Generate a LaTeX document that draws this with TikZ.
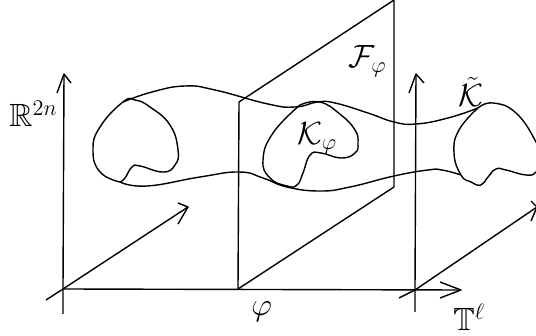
\documentclass[tikz,border=0pt]{standalone}
\usepackage{amsmath}
\usepackage{amssymb}
\usepackage{tikz}
\begin{document}
\begin{tikzpicture}[
  x=0.5pt,y=-0.5pt,
  line/.style={draw=black,line width=0.7pt,line join=round},
  blob/.style={draw=black,line width=0.7pt,smooth,tension=0.8},
  tag/.style={inner sep=0pt,anchor=base west,font=\LARGE,scale=0.93}
]
\useasboundingbox (0,0) rectangle (536,336);
\clip (0,0) rectangle (536,336);
% base point of each fibre
\coordinate (left) at (63,289);
\coordinate (right) at (415,290);
\coordinate (foot) at (238,289);
% axes
\draw[line] (63,314) -- (left) -- (64,74);
\draw[line] (57,93) -- (64,74) -- (71,83);
\draw[line] (left) -- (461,290);
\draw[line] (440,282) -- (461,290) -- (440,298);
\draw[line] (46,300) -- (left) -- (188,207);
\draw[line] (178,203) -- (188,207) -- (178,224);
\draw[line] (415,312) -- (right) -- (416,74);
\draw[line] (409,93) -- (416,74) -- (424,83);
\draw[line] (399,298) -- (right) -- (537,207);
\draw[line] (531,201) -- (537,207) -- (531,221);
% fibre
\draw[line] (foot) -- (239,102) -- (394,0) -- (394,187) -- (foot);
% tube
\draw[blob] plot coordinates {(123,102) (152,92) (185,86) (215,90) (268,104) (295,107) (318,102) (335,103) (368,113) (394,122) (416,124) (448,118) (478,108)};
\draw[blob] plot coordinates {(120,182) (147,186) (200,177) (239,172) (263,178) (287,187) (320,191) (350,187) (394,176) (428,170) (442,170) (461,175)};
% sections
\draw[blob] plot coordinates {(120,182) (100,172) (93,150) (100,127) (123,102) (135,100) (150,107) (170,125) (178,150) (175,165) (163,172) (140,166) (132,167) (125,178) (120,182)};
\draw[blob] plot coordinates {(300,105) (320,102) (341,115) (355,130) (358,143) (355,153) (341,158) (321,153) (310,155) (303,173) (297,185) (287,186) (270,178) (263,160) (273,133) (300,105)};
\draw[blob] plot coordinates {(478,108) (493,103) (516,113) (536,142) (542,160) (536,172) (526,175) (506,170) (496,169) (488,177) (481,185) (471,182) (461,175) (454,153) (459,130) (478,108)};
% labels
\node[tag] (rn) at (9,127) {$\mathbb{R}^{2n}$};
\node[tag] (fibre) at (348,68) {$\mathcal{F}_\varphi$};
\node[tag] (section) at (297,145) {$\mathcal{K}_\varphi$};
\node[tag] (tube) at (458,107) {$\tilde{\mathcal{K}}$};
\node[tag] (phi) at (251,316) {$\varphi$};
\node[tag] (torus) at (453,331) {$\mathbb{T}^\ell$};
\end{tikzpicture}
\end{document}
